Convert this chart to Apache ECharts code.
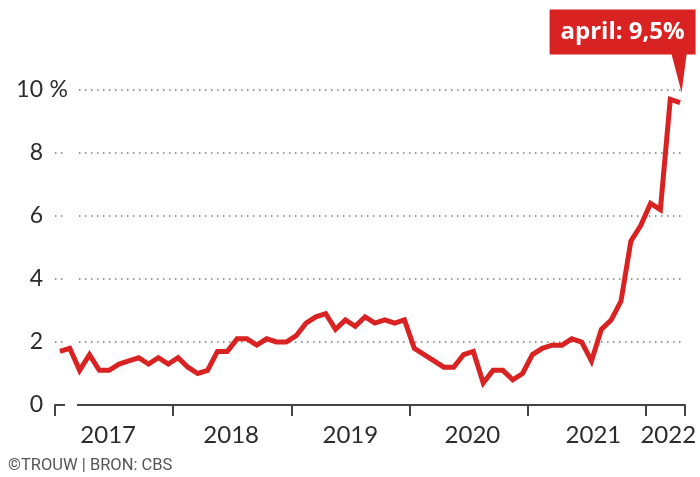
<!DOCTYPE html>
<html>
<head>
<meta charset="utf-8">
<script src="https://cdn.jsdelivr.net/npm/echarts@6/dist/echarts.min.js"></script>
<style>
  html, body { margin: 0; padding: 0; background: #fff; }
  #chart { width: 700px; height: 477px; }
</style>
</head>
<body>
<div id="chart"></div>
<script>
// Monthly inflation (CPI, % year-on-year), Jan 2017 – Apr 2022
const years = [2017, 2018, 2019, 2020, 2021, 2022];
const values2017 = [1.7, 1.8, 1.1, 1.6, 1.1, 1.1, 1.3, 1.4, 1.5, 1.3, 1.5, 1.3];
const values2018 = [1.5, 1.2, 1.0, 1.1, 1.7, 1.7, 2.1, 2.1, 1.9, 2.1, 2.0, 2.0];
const values2019 = [2.2, 2.6, 2.8, 2.9, 2.4, 2.7, 2.5, 2.8, 2.6, 2.7, 2.6, 2.7];
const values2020 = [1.8, 1.6, 1.4, 1.2, 1.2, 1.6, 1.7, 0.7, 1.1, 1.1, 0.8, 1.0];
const values2021 = [1.6, 1.8, 1.9, 1.9, 2.1, 2.0, 1.4, 2.4, 2.7, 3.3, 5.2, 5.7];
const values2022 = [6.4, 6.2, 9.7, 9.6];
const yTicks = [0, 2, 4, 6, 8, 10];
const calloutText = 'april: 9,5%';
const footerText = '\u00A9TROUW | BRON: CBS';

const monthly = [].concat(values2017, values2018, values2019, values2020, values2021, values2022);
const seriesData = monthly.map((v, i) => [i + 0.5, v]);
const nMonths = monthly.length;
const last = seriesData[seriesData.length - 1];

const RED = '#d92323';
const TEXT = '#2b2b2b';

const chart = echarts.init(document.getElementById('chart'), null, { renderer: 'canvas' });
chart.setOption({
  animation: false,
  backgroundColor: '#fff',
  grid: { left: 55, right: 15, top: 90, bottom: 72, containLabel: false },
  xAxis: {
    type: 'value',
    min: 0,
    max: nMonths,
    axisLine: { show: true, lineStyle: { color: '#444', width: 2 } },
    axisTick: {
      show: true,
      length: 11,
      lineStyle: { color: '#444', width: 2 },
      customValues: years.map((y, i) => i * 12).concat([nMonths])
    },
    axisLabel: {
      customValues: [5.4, 17.9, 30, 42.4, 54.7, 62.3],
      formatter: v => String(years[0] + Math.floor(v / 12)),
      color: TEXT,
      fontFamily: 'Lato',
      fontSize: 24,
      margin: 18
    },
    splitLine: { show: false }
  },
  yAxis: [
    {
      type: 'value',
      min: yTicks[0],
      max: yTicks[yTicks.length - 1],
      interval: 2,
      axisLine: { show: false },
      axisTick: { show: false },
      axisLabel: {
        color: TEXT,
        fontFamily: 'Lato',
        fontSize: 23,
        margin: 12,
        align: 'right',
        formatter: v => String(v)
      },
      splitLine: {
        show: true,
        lineStyle: { color: '#777', width: 1.5, type: [1.5, 4.5] }
      }
    },
    {
      type: 'value',
      min: yTicks[0],
      max: yTicks[yTicks.length - 1],
      interval: 2,
      position: 'left',
      axisLine: { show: false },
      axisTick: { show: false },
      splitLine: { show: false },
      axisLabel: {
        color: TEXT,
        fontFamily: 'Lato',
        fontSize: 23,
        margin: -22,
        align: 'right',
        backgroundColor: '#fff',
        padding: [2, 9, 2, 3],
        formatter: v => (v === yTicks[yTicks.length - 1] ? '%' : '')
      }
    }
  ],
  series: [
    {
      type: 'line',
      data: seriesData,
      showSymbol: false,
      symbol: 'none',
      clip: false,
      lineStyle: { color: RED, width: 5, join: 'miter' },
      z: 3,
      markPoint: {
        silent: true,
        symbol: 'path://M0,0 L146,0 L146,45 L137,45 L132,83 L122,45 L0,45 Z',
        symbolSize: [146, 83],
        symbolKeepAspect: false,
        symbolOffset: [-57.5, -51.5],
        itemStyle: { color: RED },
        label: {
          show: true,
          position: 'inside',
          offset: [0, -19],
          formatter: calloutText,
          color: '#fff',
          fontFamily: 'Open Sans',
          fontWeight: 'bold',
          fontSize: 24
        },
        data: [{ coord: [last[0], last[1]] }]
      }
    }
  ],
  graphic: [
    {
      type: 'text',
      left: 8,
      top: 457,
      style: {
        text: footerText,
        fill: '#555',
        font: '16.5px Roboto'
      }
    }
  ]
});
</script>
</body>
</html>
